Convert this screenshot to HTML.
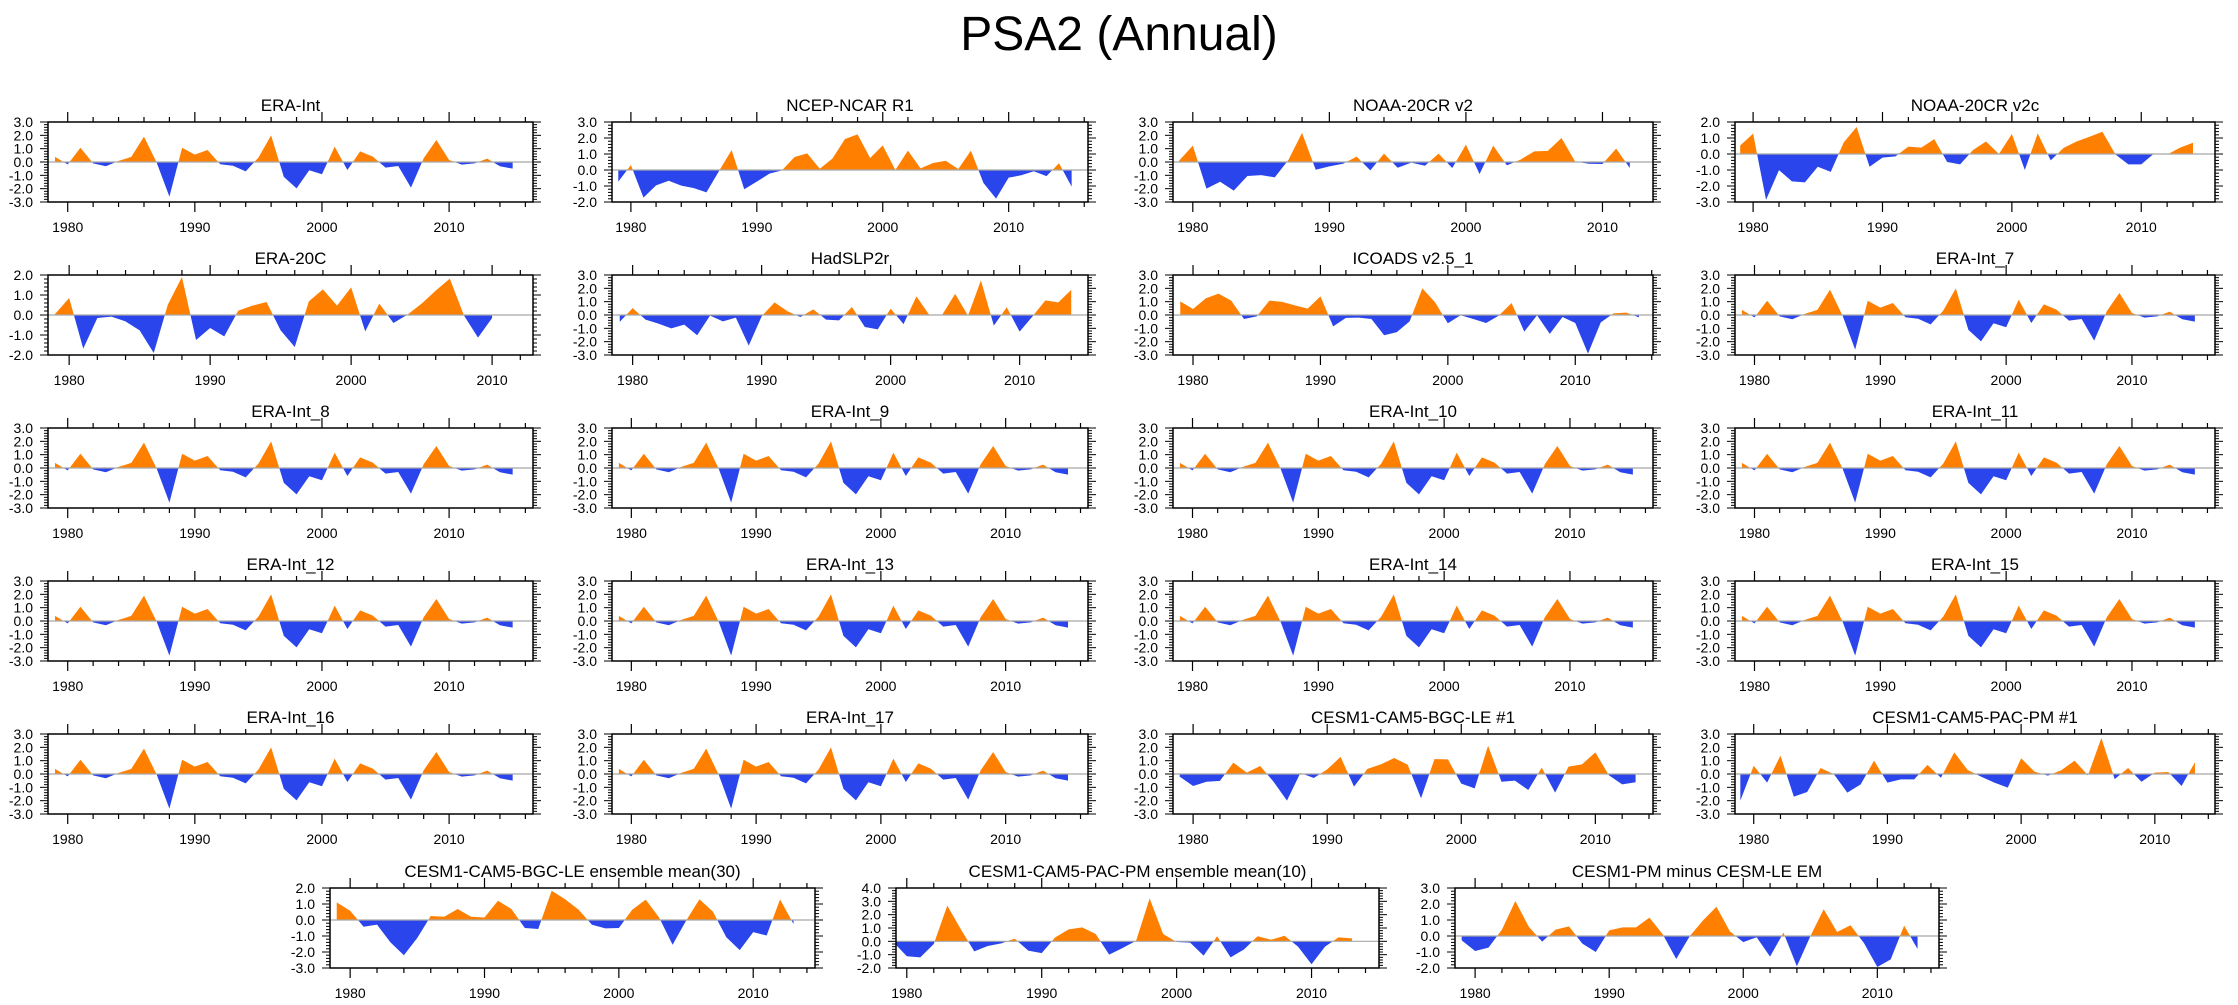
<!DOCTYPE html>
<html>
<head>
<meta charset="utf-8">
<style>
  html,body{margin:0;padding:0;background:#fff;}
  svg{display:block;font-family:"Liberation Sans",Arial,sans-serif;}
</style>
</head>
<body>
<svg id="chart" width="2238" height="1005" viewBox="0 0 2238 1005" xmlns="http://www.w3.org/2000/svg">
  <rect x="0" y="0" width="2238" height="1005" fill="#fff"/>
  <text x="1119" y="50" font-size="48" text-anchor="middle" fill="#000">PSA2 (Annual)</text>
</svg>
<script>
// ---- data (annual values, first year 1979) ----
const eraInt = [0.38,-0.18,1.07,-0.1,-0.32,0.08,0.38,1.9,-0.05,-2.6,1.07,0.55,0.9,-0.17,-0.28,-0.7,0.33,2.0,-1.12,-1.98,-0.62,-0.92,1.15,-0.6,0.8,0.4,-0.42,-0.3,-1.92,0.28,1.65,0.15,-0.2,-0.1,0.25,-0.32,-0.5];
const ncep = [-0.73,0.31,-1.73,-0.96,-0.67,-0.98,-1.13,-1.4,-0.06,1.25,-1.2,-0.73,-0.23,-0.02,0.81,1.04,0.08,0.71,1.94,2.23,0.75,1.54,0.0,1.21,0.1,0.44,0.58,0.06,1.21,-0.81,-1.79,-0.48,-0.33,-0.08,-0.38,0.42,-1.04];
const noaaV2 = [0.1,1.23,-2.0,-1.48,-2.15,-1.05,-0.98,-1.15,0.15,2.18,-0.58,-0.33,-0.13,0.4,-0.63,0.63,-0.43,-0.05,-0.28,0.63,-0.45,1.3,-0.9,1.23,-0.25,0.18,0.8,0.83,1.8,0.03,-0.13,-0.15,1.0,-0.45];
const noaaV2c = [0.53,1.27,-2.87,-1.01,-1.71,-1.77,-0.8,-1.12,0.72,1.69,-0.8,-0.23,-0.15,0.46,0.4,0.93,-0.5,-0.65,0.25,0.78,0.0,1.25,-1.0,1.29,-0.4,0.38,0.78,1.08,1.39,-0.02,-0.65,-0.65,0.04,-0.04,0.4,0.7];
const era20c = [0.05,0.85,-1.68,-0.15,-0.08,-0.32,-0.77,-1.9,0.52,1.9,-1.25,-0.65,-1.07,0.22,0.47,0.65,-0.77,-1.6,0.68,1.28,0.47,1.38,-0.82,0.57,-0.4,0.02,0.57,1.22,1.82,-0.02,-1.13,-0.15];
const hadslp = [-0.52,0.52,-0.35,-0.65,-1.0,-0.72,-1.52,-0.05,-0.48,-0.2,-2.3,-0.1,0.95,0.28,-0.15,0.42,-0.35,-0.4,0.6,-0.9,-1.08,0.48,-0.68,1.4,0.0,0.02,1.58,-0.05,2.6,-0.8,0.58,-1.25,-0.1,1.1,0.95,1.88];
const icoads = [1.02,0.45,1.25,1.6,1.08,-0.3,-0.1,1.08,0.98,0.72,0.48,1.4,-0.85,-0.22,-0.2,-0.3,-1.52,-1.28,-0.48,2.0,0.95,-0.62,-0.02,-0.3,-0.6,-0.05,0.9,-1.25,-0.02,-1.42,-0.15,-0.6,-2.9,-0.55,0.12,0.18,-0.18];
const bgcLe1 = [-0.2,-0.9,-0.58,-0.52,0.85,0.1,0.6,-0.58,-2.0,0.08,-0.3,0.35,1.28,-0.95,0.38,0.72,1.2,0.7,-1.82,1.12,1.1,-0.72,-1.08,2.12,-0.58,-0.5,-1.2,0.48,-1.4,0.55,0.72,1.62,-0.08,-0.78,-0.62];
const pacPm1 = [-2.0,0.62,-0.65,1.38,-1.7,-1.35,0.45,-0.02,-1.4,-0.78,1.0,-0.65,-0.4,-0.4,0.68,-0.28,1.62,0.3,-0.2,-0.65,-1.02,1.18,0.18,-0.12,0.28,1.0,-0.1,2.7,-0.38,0.45,-0.58,0.1,0.15,-0.9,0.88];
const bgcLeMean = [1.1,0.58,-0.42,-0.29,-1.4,-2.2,-1.12,0.25,0.2,0.69,0.2,0.16,1.2,0.69,-0.5,-0.56,1.83,1.3,0.65,-0.3,-0.52,-0.5,0.65,1.27,0.15,-1.55,-0.05,1.3,0.52,-1.08,-1.88,-0.76,-0.97,1.29,-0.25];
const pacPmMean = [-0.05,-1.12,-1.2,-0.2,2.68,0.92,-0.75,-0.35,-0.15,0.2,-0.7,-0.88,0.3,0.9,1.05,0.55,-1.0,-0.5,0.05,3.22,0.55,-0.05,-0.1,-1.07,0.38,-1.2,-0.6,0.38,0.12,0.42,-0.4,-1.72,-0.4,0.3,0.22];
const pmMinusLe = [-0.27,-0.94,-0.73,0.4,2.19,0.58,-0.35,0.4,0.6,-0.48,-1.0,0.35,0.54,0.54,1.15,0.1,-1.44,-0.02,0.98,1.83,0.29,-0.38,-0.08,-1.29,0.21,-1.9,-0.02,1.67,0.25,0.67,-0.44,-1.94,-1.46,0.65,-0.81];

const panelTitles = ["ERA-Int","NCEP-NCAR R1","NOAA-20CR v2","NOAA-20CR v2c",
  "ERA-20C","HadSLP2r","ICOADS v2.5_1","ERA-Int_7",
  "ERA-Int_8","ERA-Int_9","ERA-Int_10","ERA-Int_11",
  "ERA-Int_12","ERA-Int_13","ERA-Int_14","ERA-Int_15",
  "ERA-Int_16","ERA-Int_17","CESM1-CAM5-BGC-LE #1","CESM1-CAM5-PAC-PM #1",
  "CESM1-CAM5-BGC-LE ensemble mean(30)","CESM1-CAM5-PAC-PM ensemble mean(10)","CESM1-PM minus CESM-LE EM"];
const panelSeries = [eraInt,ncep,noaaV2,noaaV2c,
  era20c,hadslp,icoads,eraInt,
  eraInt,eraInt,eraInt,eraInt,
  eraInt,eraInt,eraInt,eraInt,
  eraInt,eraInt,bgcLe1,pacPm1,
  bgcLeMean,pacPmMean,pmMinusLe];
const firstYear = 1979;
const yMins = [-3,-2,-3,-3, -2,-3,-3,-3, -3,-3,-3,-3, -3,-3,-3,-3, -3,-3,-3,-3, -3,-2,-2];
const yMaxs = [3,3,3,2, 2,3,3,3, 3,3,3,3, 3,3,3,3, 3,3,3,3, 2,4,3];
const xMinYears = [1978.45,1978.5,1978.55,1978.6, 1978.5,1978.4,1978.43,1978.45,
  1978.45,1978.45,1978.45,1978.45, 1978.45,1978.45,1978.45,1978.45,
  1978.45,1978.45,1978.5,1978.6, 1978.5,1979.2,1978.5];
const xMaxYears = [2016.6,2016.3,2013.7,2015.7, 2012.9,2015.3,2016.1,2016.6,
  2016.6,2016.6,2016.6,2016.6, 2016.6,2016.6,2016.6,2016.6,
  2016.6,2016.6,2014.3,2014.5, 2014.6,2015.0,2014.6];

// ---- layout (pixels) ----
const colLeft = [48,612,1173,1735];
const colWidth = [485,476,480,480];
const rowTop = [122,275,428,581,734];
const bottomLeft = [330,896,1455];
const bottomWidth = [485,483,484];
const bottomTop = 888;
const frameH = 80;

const NS = "http://www.w3.org/2000/svg";
const svg = document.getElementById("chart");
function mk(tag, attrs, parent){
  const e = document.createElementNS(NS, tag);
  for (const k in attrs) e.setAttribute(k, attrs[k]);
  (parent||svg).appendChild(e);
  return e;
}
function fmt(v){ return (v<0?"-":"") + Math.abs(v).toFixed(1); }

panelTitles.forEach((title, i) => {
  let L, W, T;
  if (i < 20) { L = colLeft[i%4]; W = colWidth[i%4]; T = rowTop[Math.floor(i/4)]; }
  else { L = bottomLeft[i-20]; W = bottomWidth[i-20]; T = bottomTop; }
  const B = T + frameH;
  const x0 = xMinYears[i], x1 = xMaxYears[i], ymin = yMins[i], ymax = yMaxs[i];
  const sx = yr => L + (yr - x0) / (x1 - x0) * W;
  const sy = v => B - (v - ymin) / (ymax - ymin) * frameH;

  const g = mk("g", {});
  
  

  const t = mk("text", {x: L + W/2, y: T - 11, "font-size": 17, "text-anchor": "middle", fill: "#000"}, g);
  t.textContent = title;
  
  

  // clip
  const cid = "clip" + i;
  const defs = mk("defs", {}, g);
  const cp = mk("clipPath", {id: cid + "p"}, defs);
  mk("rect", {x: L, y: T, width: W, height: sy(0) - T}, cp);
  const cn = mk("clipPath", {id: cid + "n"}, defs);
  mk("rect", {x: L, y: sy(0), width: W, height: B - sy(0)}, cn);
  const cf = mk("clipPath", {id: cid + "f"}, defs);
  mk("rect", {x: L, y: T, width: W, height: frameH}, cf);

  const data = panelSeries[i];
  const zy = sy(0);
  let d = "M" + sx(firstYear).toFixed(2) + "," + zy.toFixed(2);
  data.forEach((v, k) => { d += " L" + sx(firstYear + k).toFixed(2) + "," + sy(v).toFixed(2); });
  d += " L" + sx(firstYear + data.length - 1).toFixed(2) + "," + zy.toFixed(2) + " Z";
  const wrap = mk("g", {"clip-path": "url(#" + cid + "f)"}, g);
  const pos = mk("path", {d: d, fill: "#FF8000", "clip-path": "url(#" + cid + "p)"}, wrap);
  
  
  const neg = mk("path", {d: d, fill: "#2A45EC", "clip-path": "url(#" + cid + "n)"}, wrap);
  
  
  const zl = mk("line", {x1: L, x2: L + W, y1: zy, y2: zy, stroke: "#a8a8a8", "stroke-width": 1.2}, g);
  
  

  // frame
  const fr = mk("rect", {x: L, y: T, width: W, height: frameH, fill: "none", stroke: "#000", "stroke-width": 1.5}, g);
  
  

  // x ticks
  for (let yr = Math.ceil(x0); yr <= x1; yr++) {
    if (yr % 2 !== 0) continue;
    const major = yr % 10 === 0;
    const x = sx(yr), len = major ? 10 : 5;
    mk("line", {x1: x, x2: x, y1: B, y2: B + len, stroke: "#000", "stroke-width": 1.2}, g);
    mk("line", {x1: x, x2: x, y1: T, y2: T - len, stroke: "#000", "stroke-width": 1.2}, g);
    if (major) {
      const lb = mk("text", {x: x, y: B + 30, "font-size": 14, "text-anchor": "middle", fill: "#000"}, g);
      lb.textContent = String(yr);
      
      
    }
  }
  // y ticks
  for (let k = 0; k <= (ymax - ymin) * 5; k++) {
    const v = ymin + k * 0.2, y = sy(v);
    const major = k % 5 === 0, len = major ? 8 : 4;
    mk("line", {x1: L, x2: L - len, y1: y, y2: y, stroke: "#000", "stroke-width": 1}, g);
    mk("line", {x1: L + W, x2: L + W + len, y1: y, y2: y, stroke: "#000", "stroke-width": 1}, g);
    if (major) {
      const lb = mk("text", {x: L - 15, y: y + 5, "font-size": 14, "text-anchor": "end", fill: "#000"}, g);
      lb.textContent = fmt(v);
      
      
    }
  }
});
</script>
</body>
</html>
